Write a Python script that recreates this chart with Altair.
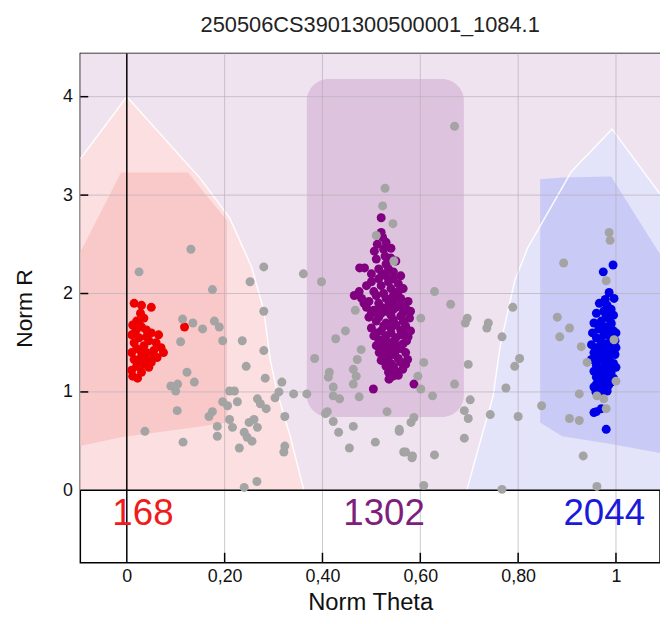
import altair as alt
import pandas as pd

title_text = "250506CS3901300500001_1084.1"
x_title = "Norm Theta"
y_title = "Norm R"
x_ticks = [0, 0.2, 0.4, 0.6, 0.8, 1.0]
y_ticks = [0, 1, 2, 3, 4]
x_domain = [-0.095, 1.09]
y_domain = [-0.735, 4.44]

# cluster regions (theta, R)
red_outer_theta = [-0.095, 0.0, 0.15, 0.21, 0.255, 0.28, 0.293, 0.307, 0.334, 0.362]
red_outer_top = [3.37, 4.0, 3.17, 2.77, 2.27, 1.83, 1.33, 1.0, 0.55, 0.0]
red_inner_theta = [-0.095, -0.012, 0.125, 0.205]
red_inner_top = [2.42, 3.23, 3.23, 2.74]
red_inner_bottom = [0.45, 0.54, 0.63, 0.69]
blue_outer_theta = [0.695, 0.72, 0.749, 0.763, 0.793, 0.82, 0.909, 0.992, 1.09]
blue_outer_top = [0.0, 0.45, 0.96, 1.46, 2.13, 2.47, 3.24, 3.67, 3.01]
blue_inner_theta = [0.845, 0.89, 0.99, 1.09]
blue_inner_top = [3.16, 3.18, 3.19, 2.4]
blue_inner_bottom = [0.69, 0.55, 0.47, 0.38]
purple_box = {"t0": 0.368, "t1": 0.689, "r0": 0.745, "r1": 4.18}

# samples (Norm Theta, Norm R)
red_points = [
    (0.015, 1.90), (0.03, 1.88), (0.05, 1.86), (0.028, 1.80), (0.035, 1.75), (0.02, 1.72),
    (0.012, 1.68), (0.03, 1.66), (0.018, 1.62), (0.04, 1.63), (0.05, 1.60), (0.065, 1.58),
    (0.01, 1.58), (0.025, 1.55), (0.045, 1.52), (0.06, 1.50), (0.015, 1.50), (0.035, 1.47),
    (0.07, 1.45), (0.075, 1.40), (0.055, 1.42), (0.02, 1.44), (0.01, 1.40), (0.04, 1.40),
    (0.03, 1.36), (0.062, 1.35), (0.015, 1.33), (0.05, 1.30), (0.035, 1.28), (0.02, 1.26),
    (0.045, 1.25), (0.01, 1.22), (0.03, 1.20), (0.012, 1.16), (0.022, 1.14), (0.118, 1.66),
    (0.025, 1.70), (0.04, 1.56), (0.028, 1.42), (0.055, 1.36), (0.04, 1.33), (0.025, 1.30),
]
purple_points = [
    (0.52, 2.77), (0.523, 2.57), (0.54, 2.46), (0.506, 2.43), (0.476, 2.26), (0.486, 2.26),
    (0.55, 2.33), (0.51, 2.35), (0.53, 2.30), (0.545, 2.22), (0.50, 2.20), (0.515, 2.15),
    (0.535, 2.12), (0.555, 2.10), (0.565, 2.05), (0.49, 2.08), (0.505, 2.02), (0.525, 2.00),
    (0.545, 1.98), (0.465, 1.98), (0.48, 1.95), (0.56, 1.95), (0.575, 1.92), (0.495, 1.92),
    (0.515, 1.90), (0.535, 1.88), (0.55, 1.86), (0.57, 1.85), (0.505, 1.83), (0.52, 1.80),
    (0.54, 1.78), (0.56, 1.77), (0.578, 1.75), (0.495, 1.76), (0.51, 1.72), (0.53, 1.70),
    (0.55, 1.68), (0.57, 1.67), (0.50, 1.65), (0.52, 1.62), (0.54, 1.60), (0.56, 1.58),
    (0.575, 1.56), (0.505, 1.57), (0.525, 1.53), (0.545, 1.51), (0.565, 1.49), (0.51, 1.47),
    (0.53, 1.44), (0.55, 1.42), (0.57, 1.40), (0.516, 1.40), (0.535, 1.36), (0.555, 1.34),
    (0.574, 1.33), (0.52, 1.32), (0.54, 1.29), (0.53, 1.26), (0.564, 1.23), (0.55, 1.21),
    (0.544, 1.16), (0.536, 1.13), (0.504, 1.03), (0.587, 1.08), (0.58, 1.62), (0.58, 1.82),
    (0.49, 1.86), (0.50, 2.12), (0.56, 2.18), (0.525, 2.45), (0.515, 2.25),
    (0.52, 2.62), (0.53, 2.52), (0.512, 2.50), (0.528, 2.38), (0.54, 2.36), (0.522, 2.20),
    (0.535, 2.25), (0.53, 2.18), (0.545, 2.15), (0.52, 2.08), (0.54, 2.05), (0.555, 2.02),
    (0.51, 1.98), (0.53, 1.95), (0.545, 1.92), (0.56, 1.88), (0.52, 1.86), (0.50, 1.80),
    (0.53, 1.82), (0.545, 1.84), (0.565, 1.81), (0.515, 1.76), (0.545, 1.73), (0.565, 1.72),
    (0.525, 1.67), (0.54, 1.65), (0.56, 1.63), (0.51, 1.60), (0.53, 1.57), (0.55, 1.55),
    (0.515, 1.53), (0.535, 1.50), (0.555, 1.47), (0.52, 1.46), (0.54, 1.44), (0.56, 1.44),
    (0.525, 1.40), (0.545, 1.38), (0.56, 1.30), (0.545, 1.26), (0.535, 1.20), (0.555, 1.17),
    (0.528, 1.30), (0.57, 1.28), (0.485, 1.90), (0.475, 2.02), (0.568, 1.60), (0.572, 1.52),
]
blue_points = [
    (0.994, 2.29), (0.974, 2.22), (0.986, 2.01), (0.996, 1.95), (0.966, 1.90), (0.982, 1.88),
    (0.99, 1.84), (0.975, 1.82), (0.96, 1.80), (0.995, 1.78), (0.985, 1.75), (0.97, 1.72),
    (0.955, 1.70), (0.99, 1.69), (0.98, 1.66), (0.965, 1.64), (0.995, 1.62), (0.952, 1.60),
    (0.975, 1.58), (0.988, 1.56), (0.96, 1.55), (0.998, 1.52), (0.97, 1.50), (0.95, 1.48),
    (0.985, 1.47), (0.96, 1.45), (0.992, 1.43), (0.975, 1.41), (0.955, 1.40), (0.998, 1.38),
    (0.965, 1.36), (0.985, 1.34), (0.95, 1.33), (0.975, 1.31), (0.995, 1.29), (0.96, 1.27),
    (0.985, 1.25), (0.97, 1.23), (0.955, 1.21), (0.99, 1.20), (0.975, 1.18), (0.96, 1.15),
    (0.995, 1.14), (0.98, 1.12), (0.965, 1.10), (0.985, 1.07), (0.955, 1.05), (0.975, 1.03),
    (0.959, 1.00), (0.982, 1.01), (0.97, 0.97), (0.955, 0.79), (0.97, 0.83), (0.96, 0.80),
    (0.98, 0.62), (0.99, 1.70), (1.0, 1.60), (1.0, 1.45), (1.0, 1.25),
    (0.978, 1.94), (0.98, 1.78), (0.968, 1.68), (0.982, 1.60), (0.968, 1.53), (0.98, 1.49),
    (0.968, 1.43), (0.982, 1.38), (0.97, 1.34), (0.96, 1.30), (0.98, 1.28), (0.968, 1.20),
    (0.985, 1.16), (0.97, 1.13), (0.96, 1.08), (0.99, 1.10), (0.968, 1.06), (0.99, 1.50),
]
gray_points = [
    (0.025, 2.22), (0.131, 2.45), (0.175, 2.04), (0.252, 2.12), (0.28, 2.27), (0.361, 2.20),
    (0.398, 2.12), (0.114, 1.74), (0.135, 1.70), (0.155, 1.64), (0.179, 1.72), (0.189, 1.66),
    (0.11, 1.51), (0.196, 1.52), (0.236, 1.52), (0.28, 1.82), (0.28, 1.42), (0.244, 1.26),
    (0.123, 1.20), (0.138, 1.10), (0.283, 1.14), (0.09, 1.06), (0.10, 1.01), (0.104, 1.08),
    (0.103, 0.81), (0.037, 0.60), (0.115, 0.49), (0.175, 0.80), (0.168, 0.75), (0.196, 0.90),
    (0.21, 1.01), (0.22, 1.01), (0.206, 0.86), (0.226, 0.90), (0.185, 0.65), (0.185, 0.55),
    (0.21, 0.72), (0.216, 0.64), (0.23, 0.43), (0.24, 0.59), (0.25, 0.69), (0.26, 0.72),
    (0.267, 0.64), (0.256, 0.50), (0.246, 0.54), (0.267, 0.93), (0.273, 0.88), (0.285, 0.83),
    (0.303, 0.94), (0.311, 1.00), (0.317, 1.10), (0.341, 0.98), (0.368, 0.98), (0.323, 0.75),
    (0.323, 0.45), (0.321, 0.39), (0.24, 0.03), (0.266, 0.09), (0.384, 1.34),
    (0.467, 1.83), (0.447, 1.62), (0.427, 1.54), (0.479, 1.43), (0.471, 1.33), (0.463, 1.23),
    (0.469, 1.16), (0.414, 1.20), (0.412, 1.15), (0.463, 1.08), (0.422, 1.05), (0.422, 0.96),
    (0.435, 0.93), (0.475, 0.95), (0.406, 0.78), (0.422, 0.70), (0.433, 0.59), (0.463, 0.65),
    (0.455, 0.43), (0.508, 0.49), (0.532, 0.80), (0.557, 0.60), (0.581, 0.69), (0.566, 0.39),
    (0.583, 0.33), (0.67, 3.70), (0.528, 3.07), (0.523, 2.89), (0.544, 2.71), (0.51, 2.59),
    (0.546, 2.33), (0.629, 2.02), (0.662, 1.89), (0.601, 1.75), (0.696, 1.75), (0.692, 1.70),
    (0.739, 1.70), (0.736, 1.65), (0.767, 1.56), (0.789, 1.86), (0.607, 1.30), (0.698, 1.28),
    (0.803, 1.34), (0.793, 1.26), (0.775, 1.04), (0.67, 1.08), (0.601, 1.03), (0.625, 0.96),
    (0.702, 0.92), (0.69, 0.81), (0.698, 0.73), (0.743, 0.77), (0.80, 0.75), (0.848, 0.86),
    (0.587, 0.74), (0.557, 0.62), (0.69, 0.53), (0.629, 0.36), (0.570, 0.39), (0.584, 0.35),
    (0.607, 0.05), (0.767, 0.01), (0.595, 1.16), (0.41, 0.80),
    (0.961, 0.04), (0.893, 2.31), (0.880, 1.76), (0.905, 1.65), (0.885, 1.56), (0.929, 1.46),
    (0.941, 1.30), (0.925, 0.98), (0.905, 0.73), (0.925, 0.71), (0.933, 0.35), (0.986, 2.62),
    (0.988, 2.54), (0.98, 2.13), (0.996, 1.53), (1.0, 1.11), (0.961, 0.96), (0.975, 0.93),
    (0.98, 0.83),
]

count_labels = ["168", "1302", "2044"]
count_theta = [0.033, 0.526, 0.976]
count_r = [-0.24, -0.24, -0.24]
count_colors = ["#ee1c1c", "#7d1f7d", "#1a1ad8"]

W, H = 585, 514

xs = alt.Scale(domain=x_domain, nice=False, zero=False)
ys = alt.Scale(domain=y_domain, nice=False, zero=False)

x_axis = alt.Axis(values=x_ticks, grid=False, ticks=False, domain=False, labelFontSize=18,
                  labelFont="Liberation Sans", labelColor="#111", labelPadding=5,
                  labelExpr="datum.value == 0 ? '0' : datum.value == 1 ? '1' : replace(format(datum.value, '.2f'), '.', ',')",
                  title=x_title, titleFontSize=24, titleFont="Liberation Sans", titleFontWeight="normal",
                  titleColor="#111", titlePadding=5)
y_axis = alt.Axis(values=y_ticks, grid=False, ticks=False, domain=False, labelFontSize=18,
                  labelFont="Liberation Sans", labelColor="#111", labelPadding=8, format="d",
                  title=y_title, titleFontSize=23, titleFont="Liberation Sans", titleFontWeight="normal",
                  titleColor="#111", titlePadding=26)

def pts(lst, group):
    return pd.DataFrame({"theta": [p[0] for p in lst], "r": [p[1] for p in lst], "g": group})

# background above R=0
bg = alt.Chart(pd.DataFrame({"r": [0]})).mark_rect(color="#efe3ef").encode(
    x=alt.value(0), x2=alt.value(W), y=alt.Y("r:Q", scale=ys, axis=y_axis), y2=alt.value(0))

red_outer_df = pd.DataFrame({"theta": red_outer_theta, "top": red_outer_top, "bot": [0.0] * len(red_outer_theta)})
red_inner_df = pd.DataFrame({"theta": red_inner_theta, "top": red_inner_top, "bot": red_inner_bottom})
blue_outer_df = pd.DataFrame({"theta": blue_outer_theta, "top": blue_outer_top, "bot": [0.0] * len(blue_outer_theta)})
blue_inner_df = pd.DataFrame({"theta": blue_inner_theta, "top": blue_inner_top, "bot": blue_inner_bottom})

def region(df, color):
    return alt.Chart(df).mark_area(color=color, orient="vertical", clip=True, opacity=1).encode(
        x=alt.X("theta:Q", scale=xs, axis=x_axis), y=alt.Y("top:Q", scale=ys), y2="bot:Q")

def outline(df):
    return alt.Chart(df).mark_line(color="white", strokeWidth=1.5, opacity=0.9, clip=True).encode(
        x=alt.X("theta:Q", scale=xs), y=alt.Y("top:Q", scale=ys))

purple_rect = alt.Chart(pd.DataFrame([purple_box])).mark_rect(color="#dec3de", cornerRadius=22).encode(
    x=alt.X("t0:Q", scale=xs), x2="t1:Q", y=alt.Y("r0:Q", scale=ys), y2="r1:Q")

vgrid = alt.Chart(pd.DataFrame({"v": x_ticks[1:]})).mark_rule(color="#b8b0b8", strokeWidth=1, opacity=0.7).encode(
    x=alt.X("v:Q", scale=xs))
hgrid = alt.Chart(pd.DataFrame({"v": y_ticks[1:]})).mark_rule(color="#b8b0b8", strokeWidth=1, opacity=0.7).encode(
    y=alt.Y("v:Q", scale=ys))
xticks_m = alt.Chart(pd.DataFrame({"v": x_ticks[1:]})).mark_rule(color="black", strokeWidth=1.5).encode(
    x=alt.X("v:Q", scale=xs), y=alt.value(H), y2=alt.value(H - 10))
yticks_m = alt.Chart(pd.DataFrame({"v": y_ticks[1:]})).mark_rule(color="black", strokeWidth=1.5).encode(
    y=alt.Y("v:Q", scale=ys), x=alt.value(0), x2=alt.value(8))
zero_x = alt.Chart(pd.DataFrame({"v": [0]})).mark_rule(color="black", strokeWidth=1.5).encode(x=alt.X("v:Q", scale=xs))
zero_y = alt.Chart(pd.DataFrame({"v": [0]})).mark_rule(color="black", strokeWidth=1.5).encode(y=alt.Y("v:Q", scale=ys))

def scatter(df, color):
    return alt.Chart(df).mark_circle(color=color, size=82, opacity=1).encode(
        x=alt.X("theta:Q", scale=xs), y=alt.Y("r:Q", scale=ys))

red_s = scatter(pts(red_points, "AA"), "#ee0000")
purple_s = scatter(pts(purple_points, "AB"), "#800080")
blue_s = scatter(pts(blue_points, "BB"), "#0000e8")
gray_s = scatter(pts(gray_points, "NC"), "#a4a4a4")

counts_df = pd.DataFrame({"label": count_labels, "theta": count_theta, "r": count_r, "c": count_colors})
counts = alt.Chart(counts_df).mark_text(font="Liberation Sans", fontSize=37, fontWeight="normal",
                                         baseline="middle", align="center").encode(
    x=alt.X("theta:Q", scale=xs), y=alt.Y("r:Q", scale=ys), text="label:N",
    color=alt.Color("c:N", scale=None))

chart = alt.layer(
    bg, region(red_outer_df, "#fcdfe0"), region(blue_outer_df, "#e3e3f9"), purple_rect,
    region(red_inner_df, "#f9c9ca"), region(blue_inner_df, "#cacaf6"),
    outline(red_outer_df), outline(blue_outer_df),
    vgrid, hgrid, zero_x, zero_y, xticks_m, yticks_m,
    red_s, purple_s, blue_s, gray_s, counts,
).properties(
    width=W, height=H,
    title=alt.TitleParams(text=title_text, fontSize=22, font="Liberation Sans", fontWeight="normal",
                          color="#222", anchor="middle", offset=16),
    autosize=alt.AutoSizeParams(type="none"),
    padding={"left": 73, "top": 43, "right": 0, "bottom": 51},
).configure_view(stroke="black", strokeWidth=1.5, fill="white")

chart.save("out.html", embed_options={"renderer": "svg", "actions": False})
